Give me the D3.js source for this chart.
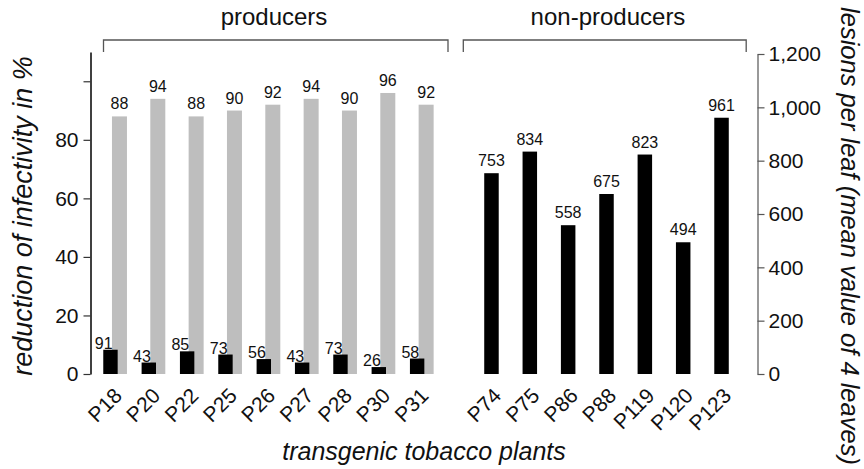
<!DOCTYPE html>
<html><head><meta charset="utf-8">
<script src="https://cdn.jsdelivr.net/npm/d3@7"></script>
<style>
html,body{margin:0;padding:0;background:#fff;}
svg text{font-family:"Liberation Sans",Arial,Helvetica,sans-serif;fill:#111;}
</style></head>
<body>
<svg id="chart" width="864" height="469"></svg>
<script>
// ---- data ----
const producers = ["P18","P20","P22","P25","P26","P27","P28","P30","P31"];
const producerLesions = [91,43,85,73,56,43,73,26,58];
const producerReduction = [88,94,88,90,92,94,90,96,92];
const nonProducers = ["P74","P75","P86","P88","P119","P120","P123"];
const nonProducerLesions = [753,834,558,675,823,494,961];
const leftTicks = [0,20,40,60,80,100];
const leftTickLabels = ["0","20","40","60","80",""];
const rightTicks = [0,200,400,600,800,1000,1200];

const svg = d3.select("#chart");

// ---- scales ----
const yLeft = d3.scaleLinear().domain([0,110]).range([374,52]);
const yRight = d3.scaleLinear().domain([0,1200]).range([374,54]);
const xP = d3.scaleBand().domain(producers).range([96,441]).padding(0);
const xN = d3.scaleBand().domain(nonProducers).range([472.3,740.7]).padding(0);
const cP = d => xP(d) + xP.bandwidth()/2;
const cN = d => xN(d) + xN.bandwidth()/2;

const grey = "#bebebe";

// ---- producers bars ----
const pData = producers.map((p,i)=>({p, les:producerLesions[i], red:producerReduction[i]}));
svg.append("g").selectAll("rect").data(pData).join("rect")
  .attr("x", d=>cP(d.p)-3.2).attr("width",15)
  .attr("y", d=>yLeft(d.red)).attr("height", d=>yLeft(0)-yLeft(d.red))
  .attr("fill", grey);
svg.append("g").selectAll("rect").data(pData).join("rect")
  .attr("x", d=>cP(d.p)-11.9).attr("width",14.4)
  .attr("y", d=>yRight(d.les)).attr("height", d=>yRight(0)-yRight(d.les))
  .attr("fill", "#000");
svg.append("g").selectAll("text").data(pData).join("text")
  .attr("x", d=>cP(d.p)+4.3).attr("y", d=>yLeft(d.red)-7)
  .attr("text-anchor","middle").attr("font-size",16).text(d=>d.red);
svg.append("g").selectAll("text").data(pData).join("text")
  .attr("x", d=>cP(d.p)-11.5).attr("y", d=>yRight(d.les)-1)
  .attr("text-anchor","middle").attr("font-size",16).text(d=>d.les);

// ---- non-producers bars ----
const nData = nonProducers.map((p,i)=>({p, les:nonProducerLesions[i]}));
svg.append("g").selectAll("rect").data(nData).join("rect")
  .attr("x", d=>cN(d.p)-7.25).attr("width",14.5)
  .attr("y", d=>yRight(d.les)).attr("height", d=>yRight(0)-yRight(d.les))
  .attr("fill", "#000");
svg.append("g").selectAll("text").data(nData).join("text")
  .attr("x", d=>cN(d.p)).attr("y", d=>yRight(d.les)-7)
  .attr("text-anchor","middle").attr("font-size",16).text(d=>d.les);

// ---- x tick labels ----
svg.append("g").selectAll("text").data(producers).join("text")
  .attr("transform", d=>`translate(${cP(d)+8},397) rotate(-45)`)
  .attr("text-anchor","end").attr("font-size",21).text(d=>d);
svg.append("g").selectAll("text").data(nonProducers).join("text")
  .attr("transform", d=>`translate(${cN(d)+11},397) rotate(-45)`)
  .attr("text-anchor","end").attr("font-size",21).text(d=>d);

// ---- left axis ----
const gL = svg.append("g").attr("transform","translate(90.5,0)")
  .call(d3.axisLeft(yLeft).tickValues(leftTicks).tickSizeOuter(0).tickSizeInner(7)
    .tickFormat((d,i)=>leftTickLabels[i]));
gL.selectAll("path.domain").attr("stroke","#000").attr("stroke-width",1.5);
gL.selectAll(".tick line").attr("stroke","#333").attr("stroke-width",1.2);
gL.selectAll(".tick text").attr("font-size",21).attr("font-family","Liberation Sans, Arial, sans-serif").attr("fill","#111").attr("x",-12);

// ---- right axis ----
const gR = svg.append("g").attr("transform","translate(757.5,0)")
  .call(d3.axisRight(yRight).tickValues(rightTicks).tickSizeOuter(0).tickSizeInner(7)
    .tickFormat(d3.format(",")));
gR.selectAll("path.domain").attr("stroke","#555").attr("stroke-width",1.2);
gR.selectAll(".tick line").attr("stroke","#555").attr("stroke-width",1.2);
gR.selectAll(".tick text").attr("font-size",21).attr("font-family","Liberation Sans, Arial, sans-serif").attr("fill","#111").attr("x",11);

// ---- group brackets ----
const br = svg.append("g").attr("fill","none").attr("stroke","#555").attr("stroke-width",1.3);
br.append("path").attr("d", `M${xP.range()[0]+7.5},52V40H${xP.range()[1]+7}V52`);
br.append("path").attr("d", `M${xN.range()[0]-9},52V40H${xN.range()[1]+5.5}V52`);
svg.append("text").attr("x",274).attr("y",25).attr("text-anchor","middle").attr("font-size",24).text("producers");
svg.append("text").attr("x",608).attr("y",25).attr("text-anchor","middle").attr("font-size",24).text("non-producers");

// ---- axis titles ----
svg.append("text").attr("transform","translate(32,216) rotate(-90)")
  .attr("text-anchor","middle").attr("font-size",27).attr("font-style","italic")
  .text("reduction of infectivity in %");
svg.append("text").attr("transform","translate(841,236) rotate(90)")
  .attr("text-anchor","middle").attr("font-size",25.5).attr("font-style","italic")
  .text("lesions per leaf (mean value of 4 leaves)");
svg.append("text").attr("x",424).attr("y",460)
  .attr("text-anchor","middle").attr("font-size",25).attr("font-style","italic")
  .text("transgenic tobacco plants");
</script>
</body></html>
